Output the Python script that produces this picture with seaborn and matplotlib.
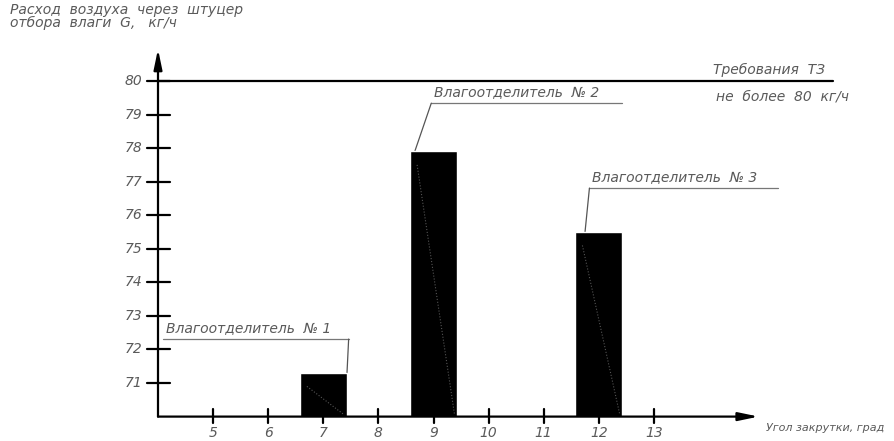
import matplotlib
matplotlib.use("Agg")
import matplotlib.pyplot as plt
import pandas as pd
import seaborn as sns

# data
angles = [7, 9, 12]
flows = [71.3, 77.9, 75.5]
names = ["Влагоотделитель  № 1", "Влагоотделитель  № 2", "Влагоотделитель  № 3"]
x_ticks = [5, 6, 7, 8, 9, 10, 11, 12, 13]
y_ticks = [71, 72, 73, 74, 75, 76, 77, 78, 79, 80]
limit = 80

df = pd.DataFrame({"angle": angles, "flow": flows, "name": names})

sns.set_style("white")
plt.rcParams['font.family'] = ['DejaVu Sans']
txt = dict(color="#5a5a5a", style="italic", fontsize=10)

fig = plt.figure(figsize=(8.94, 4.41), dpi=100)
ax = fig.add_axes([158 / 894, 24.4 / 441, 736 / 894, 416.6 / 441])
ax.set_xlim(4, 4 + 736 / 55.1)
ax.set_ylim(70, 70 + 416.6 / 33.56)

sns.barplot(data=df, x="angle", y="flow", native_scale=True, width=0.425,
            color="black", saturation=1, ax=ax, zorder=3)

for p in ax.patches:
    x0, w, h = p.get_x(), p.get_width(), p.get_height()
    ax.plot([x0 + w * 0.15, x0 + w * 0.95], [h - 0.4, 70.05], color="#555555",
            lw=0.8, ls=":", zorder=4)

for s in ax.spines.values():
    s.set_visible(False)
ax.set_xticks([])
ax.set_yticks([])
ax.set_xlabel("")
ax.set_ylabel("")

# axes drawn as arrows
ax.annotate("", xy=(14.9, 70), xytext=(4, 70),
            arrowprops=dict(arrowstyle="-|>,head_length=1.2,head_width=0.25", color="black", lw=1.6, shrinkA=0, shrinkB=0))
ax.annotate("", xy=(4, 80.95), xytext=(4, 70),
            arrowprops=dict(arrowstyle="-|>,head_length=1.2,head_width=0.25", color="black", lw=1.6, shrinkA=0, shrinkB=0))

for t in x_ticks:
    ax.plot([t, t], [69.8, 70.22], color="black", lw=1.6, clip_on=False)
    ax.text(t, 69.72, str(t), ha="center", va="top", **txt)
for t in y_ticks:
    ax.plot([3.8, 4.22], [t, t], color="black", lw=1.6, clip_on=False)
    ax.text(3.72, t, str(t), ha="right", va="center", **txt)

# requirement line
ax.plot([4, 16.25], [limit, limit], color="black", lw=1.6)
ax.text(14.08, limit + 0.12, "Требования  ТЗ", ha="left", va="bottom", **txt)
ax.text(14.12, limit - 0.45, "не  более  80  кг/ч", ha="left", va="center", **txt)

# leaders to bars
label_pos = [(4.09, 72.31, 7.46, 7.43), (8.96, 79.34, 12.42, 8.66), (11.83, 76.81, 15.26, 11.75)]
for (xs, ys, xe, xb), v, n in zip(label_pos, flows, names):
    ax.plot([xe, xs], [ys, ys], color="#777777", lw=0.9)
    ax.plot([xs if xb < xs else xe, xb], [ys, v], color="#555555", lw=0.9)
    ax.text(xs + 0.05, ys + 0.1, n, ha="left", va="bottom", **txt)

fig.text(10 / 894, 1 - 10 / 441, "Расход  воздуха  через  штуцер", ha="left", va="center", **txt)
fig.text(10 / 894, 1 - 23 / 441, "отбора  влаги  G,   кг/ч", ha="left", va="center", **txt)
fig.text(766 / 894, 1 - 428 / 441, "Угол закрутки, град", ha="left", va="center",
         color="#5a5a5a", style="italic", fontsize=8)

fig.savefig("out.png", dpi=100)
